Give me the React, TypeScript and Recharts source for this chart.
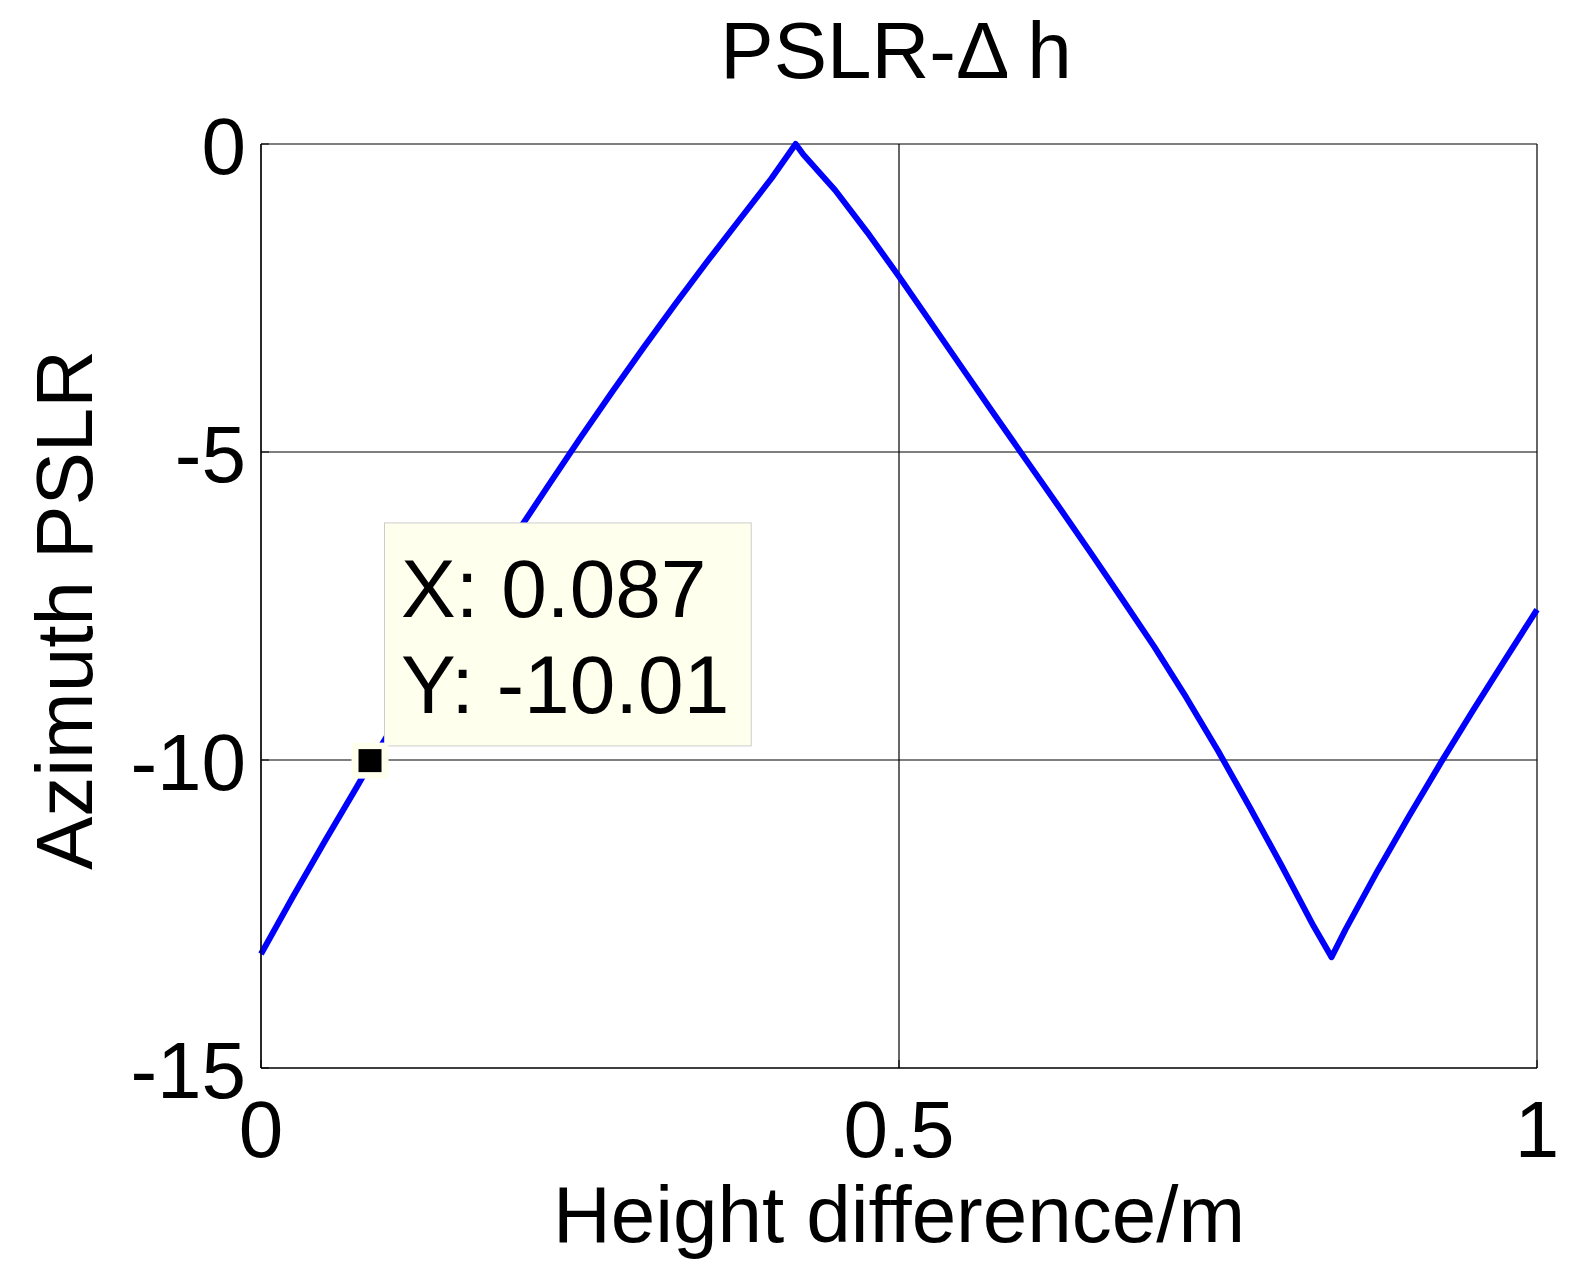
import React from 'react';
import { LineChart, Line, XAxis, YAxis, CartesianGrid, ReferenceDot } from 'recharts';

// height difference (m) and azimuth PSLR (dB)
const heightDiff = [
  0, 0.025, 0.05, 0.075, 0.087, 0.1, 0.125, 0.15, 0.175, 0.2, 0.225, 0.25, 0.275, 0.3, 0.325,
  0.35, 0.375, 0.4, 0.419, 0.425, 0.45, 0.475, 0.5, 0.525, 0.55, 0.575, 0.6, 0.625, 0.65, 0.675,
  0.7, 0.725, 0.75, 0.775, 0.8, 0.825, 0.839, 0.85, 0.875, 0.9, 0.925, 0.95, 0.975, 1.0,
];
const pslr = [
  -13.15, -12.22, -11.32, -10.44, -10.01, -9.57, -8.74, -7.93, -7.13, -6.33, -5.55, -4.78, -4.03, -3.3, -2.59,
  -1.9, -1.23, -0.56, 0, -0.17, -0.75, -1.43, -2.15, -2.9, -3.65, -4.4, -5.14, -5.88, -6.63, -7.39,
  -8.16, -8.98, -9.85, -10.77, -11.72, -12.7, -13.2, -12.75, -11.8, -10.9, -10.03, -9.19, -8.37, -7.56,
];

const xTicks = [0, 0.5, 1];
const yTicks = [0, -5, -10, -15];

const tipX = 0.087;
const tipY = -10.01;

const data = heightDiff.map((h, i) => ({ h, pslr: pslr[i] }));

const FONT = '"Liberation Sans", Arial, Helvetica, sans-serif';
const FS = 80;

const XTick = (props: any) => {
  const { x, y, payload } = props;
  return (
    <g>
      <line x1={x} y1={y} x2={x} y2={y - 8} stroke="#000" strokeWidth={1} />
      <text x={x} y={y + 89} textAnchor="middle" fontFamily={FONT} fontSize={FS} fill="#000">
        {payload.value}
      </text>
    </g>
  );
};

const YTick = (props: any) => {
  const { x, y, payload } = props;
  return (
    <g>
      <line x1={x} y1={y} x2={x + 8} y2={y} stroke="#000" strokeWidth={1} />
      <text x={x - 15} y={y + 30} textAnchor="end" fontFamily={FONT} fontSize={FS} fill="#000">
        {payload.value}
      </text>
    </g>
  );
};

const DataTip = (props: any) => {
  const { cx, cy } = props;
  const mx = cx - 2;
  return (
    <g>
      <rect x={mx + 14.5} y={cy - 237.7} width={366.7} height={223} fill="#FFFFEE" stroke="#CCCCCC" strokeWidth={1} />
      <text x={mx + 31} y={cy - 144} fontFamily={FONT} fontSize={82} fill="#000">
        {`X: ${tipX}`}
      </text>
      <text x={mx + 31} y={cy - 48} fontFamily={FONT} fontSize={82} fill="#000">
        {`Y: ${tipY}`}
      </text>
      <rect x={mx - 18.5} y={cy - 18} width={37} height={36} fill="#FFFFEE" />
      <rect x={mx - 11.5} y={cy - 11.5} width={23} height={23} fill="#000" />
    </g>
  );
};

export default function App() {
  return (
    <div style={{ position: 'absolute', left: 0, top: 0, width: 1575, height: 1280, background: '#fff' }}>
      <LineChart width={1575} height={1280} data={data} margin={{ top: 144, right: 38, left: 0, bottom: 0 }}>
        <CartesianGrid stroke="#000" strokeOpacity={1} strokeWidth={1.2} strokeDasharray="" />
        <XAxis
          type="number"
          dataKey="h"
          domain={[0, 1]}
          ticks={xTicks}
          height={212}
          tickSize={0}
          tickMargin={0}
          tickLine={false}
          axisLine={{ stroke: '#000', strokeWidth: 1.2 }}
          tick={<XTick />}
          label={{
            content: (p: any) => {
              const vb = p.viewBox;
              return (
                <text x={vb.x + vb.width / 2} y={vb.y + 174} textAnchor="middle" fontFamily={FONT} fontSize={FS} fill="#000">
                  Height difference/m
                </text>
              );
            },
          }}
        />
        <YAxis
          type="number"
          dataKey="pslr"
          domain={[-15, 0]}
          ticks={yTicks}
          width={261}
          tickSize={0}
          tickMargin={0}
          tickLine={false}
          axisLine={{ stroke: '#000', strokeWidth: 1.2 }}
          tick={<YTick />}
          label={{
            content: (p: any) => {
              const vb = p.viewBox;
              const cy = vb.y + vb.height / 2 + 4;
              return (
                <g>
                  <text
                    x={92}
                    y={cy}
                    transform={`rotate(-90 92 ${cy})`}
                    textAnchor="middle"
                    fontFamily={FONT}
                    fontSize={FS}
                    fill="#000"
                  >
                    Azimuth PSLR
                  </text>
                  <text x={896} y={78} textAnchor="middle" fontFamily={FONT} fontSize={FS} fill="#000">
                    PSLR-Δ h
                  </text>
                </g>
              );
            },
          }}
        />
        <Line
          type="linear"
          dataKey="pslr"
          stroke="#0000FF"
          strokeWidth={6}
          strokeLinejoin="round"
          dot={false}
          activeDot={false}
          isAnimationActive={false}
        />
        <ReferenceDot x={tipX} y={tipY} r={0} shape={<DataTip />} ifOverflow="visible" />
      </LineChart>
    </div>
  );
}
